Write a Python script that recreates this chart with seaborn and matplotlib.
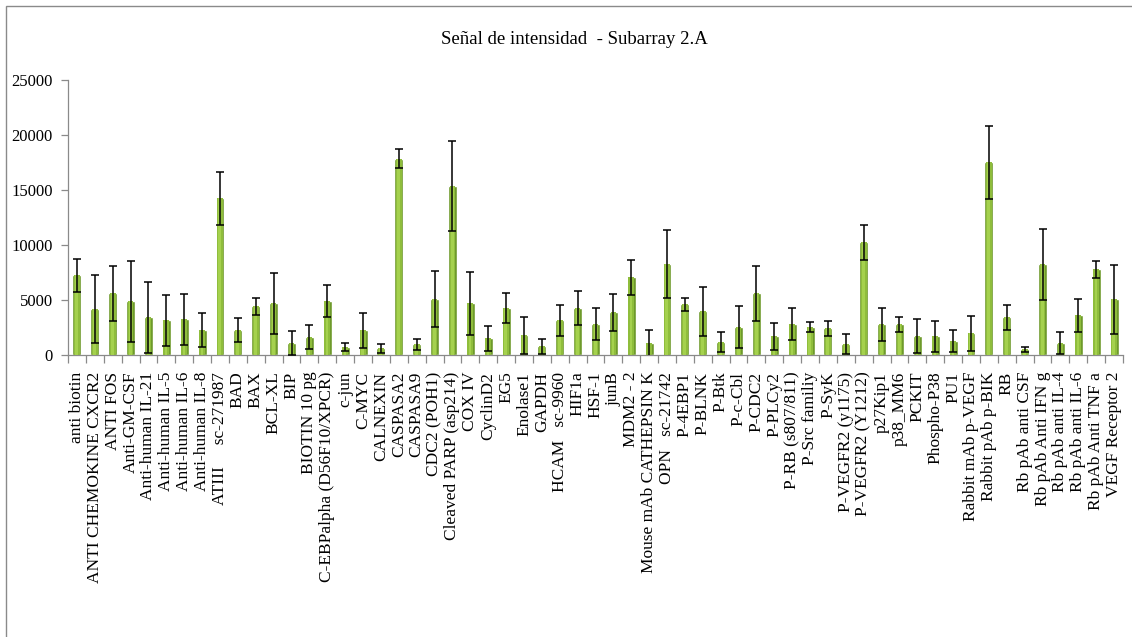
import numpy as np
import pandas as pd
import matplotlib
matplotlib.use("Agg")
import matplotlib.pyplot as plt
from matplotlib.patches import Rectangle
import seaborn as sns

# Antibody targets on subarray 2.A
categories = [
    "anti biotin", "ANTI CHEMOKINE CXCR2", "ANTI FOS", "Anti-GM-CSF",
    "Anti-human IL-21", "Anti-human IL-5", "Anti-human IL-6", "Anti-human IL-8",
    "ATIII     sc-271987", "BAD", "BAX", "BCL-XL", "BIP", "BIOTIN 10 pg",
    "C-EBPalpha (D56F10/XPCR)", "c-jun", "C-MYC", "CALNEXIN", "CASPASA2",
    "CASPASA9", "CDC2 (POH1)", "Cleaved PARP (asp214)", "COX IV", "CyclinD2",
    "EG5", "Enolase1", "GAPDH", "HCAM   sc-9960", "HIF1a", "HSF-1", "junB",
    "MDM2 - 2", "Mouse mAb CATHEPSIN K", "OPN   sc-21742", "P-4EBP1", "P-BLNK",
    "P-Btk", "P-c-Cbl", "P-CDC2", "P-PLCy2", "P-RB (s807/811)", "P-Src familiy",
    "P-SyK", "P-VEGFR2 (y1175)", "P-VEGFR2 (Y1212)", "p27Kip1", "p38_MM6",
    "PCKIT", "Phospho-P38", "PU1", "Rabbit mAb p-VEGF", "Rabbit pAb p-BIK",
    "RB", "Rb pAb anti CSF", "Rb pAb Anti IFN g", "Rb pAb anti IL-4",
    "Rb pAb anti IL-6", "Rb pAb Anti TNF a", "VEGF Receptor 2",
]

# Mean signal intensity per spot
intensity = [
    7240, 4150, 5600, 4880, 3420, 3150, 3240, 2240, 14240, 2240,
    4420, 4700, 1060, 1670, 4880, 750, 2240, 600, 17850, 970,
    5060, 15330, 4700, 1515, 4300, 1790, 790, 3150, 4300, 2790,
    3880, 7060, 1060, 8240, 4600, 3970, 1210, 2520, 5600, 1700,
    2790, 2520, 2420, 970, 10240, 2790, 2790, 1700, 1700, 1240,
    1970, 17500, 3420, 515, 8240, 1060, 3600, 7790, 5060,
]

# Standard deviation of the replicate spots
deviation = [
    1500, 3100, 2500, 3700, 3250, 2300, 2300, 1550, 2400, 1100,
    800, 2750, 1100, 1100, 1450, 350, 1600, 400, 850, 500,
    2550, 4100, 2850, 1150, 1350, 1700, 700, 1400, 1550, 1450,
    1700, 1600, 1250, 3100, 600, 2250, 900, 1900, 2500, 1250,
    1450, 450, 650, 900, 1600, 1500, 700, 1550, 1400, 1000,
    1600, 3350, 1150, 250, 3200, 1000, 1500, 800, 3150,
]

df = pd.DataFrame({"target": categories, "signal": intensity, "sd": deviation})

sns.set_theme(style="white")
plt.rcParams["font.family"] = ["Liberation Serif", "DejaVu Serif"]

fig = plt.figure(figsize=(11.32, 6.37), dpi=100)
ax = fig.add_axes([68 / 1132, 1 - 355 / 637, (1123 - 68) / 1132, 275 / 637])

# Outer frame of the chart area
fig.patches.append(Rectangle((6 / 1132, -0.05), 1.2, 1 - 6 / 637 + 0.05,
                             transform=fig.transFigure, fill=False,
                             edgecolor="#8a8a8a", linewidth=1.0, zorder=0))

sns.barplot(data=df, x="target", y="signal", color="#6e9a2b", width=0.5,
            saturation=1, errorbar=None, ax=ax, zorder=2)

# brighter core on every bar for a rounded, shaded look
for bar in list(ax.patches):
    x0, w, h = bar.get_x(), bar.get_width(), bar.get_height()
    ax.add_patch(Rectangle((x0 + w * 0.18, 0), w * 0.64, h,
                           facecolor="#8fbd3c", edgecolor="none", zorder=2.5))
    ax.add_patch(Rectangle((x0 + w * 0.32, 0), w * 0.30, h,
                           facecolor="#a5d14e", edgecolor="none", zorder=2.6))

xpos = np.arange(len(categories))
ax.errorbar(xpos, df["signal"], yerr=df["sd"], fmt="none", ecolor="black",
            elinewidth=1.1, capsize=3.2, capthick=1.1, zorder=4)

ax.set_xlim(-0.5, len(categories) - 0.5)
ax.set_ylim(0, 25000)
ax.set_yticks(np.arange(0, 25001, 5000))
ax.set_xlabel("")
ax.set_ylabel("")

ax.set_xticks(xpos)
ax.set_xticklabels(categories, rotation=90, fontsize=12.5, color="black")
ax.set_xticks(np.arange(-0.5, len(categories), 1), minor=True)
ax.tick_params(axis="x", which="major", length=0, pad=12)
ax.tick_params(axis="x", which="minor", length=6, width=0.9, color="#8a8a8a",
               direction="out", bottom=True)
ax.tick_params(axis="y", length=5, width=0.9, color="#8a8a8a", direction="out",
               left=True, labelsize=12, labelcolor="black", pad=6)

for side in ("top", "right"):
    ax.spines[side].set_visible(False)
for side in ("left", "bottom"):
    ax.spines[side].set_color("#8a8a8a")
    ax.spines[side].set_linewidth(0.9)

fig.text(574 / 1132, 1 - 40 / 637, "Señal de intensidad  - Subarray 2.A",
         ha="center", va="center", fontsize=13.5, color="black")

fig.savefig("out.png", dpi=100)
